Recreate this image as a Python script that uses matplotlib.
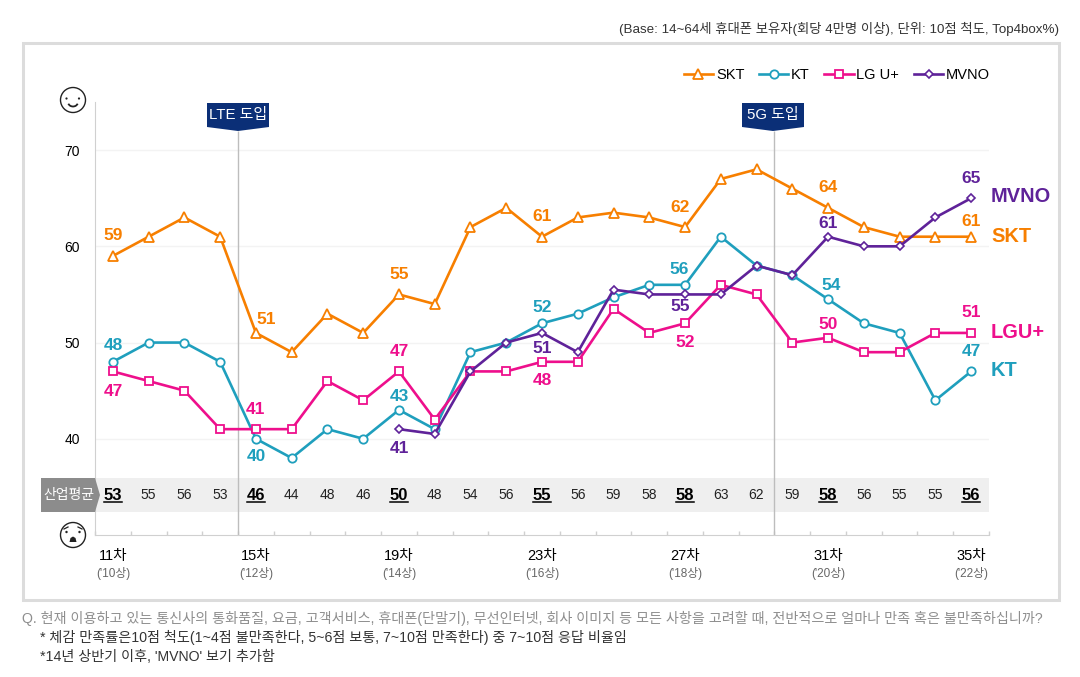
import matplotlib
matplotlib.use('Agg')
import matplotlib.pyplot as plt
from matplotlib.patches import Circle, Polygon, Rectangle, Arc

plt.rcParams['font.family'] = ['Liberation Sans', 'Noto Sans CJK KR']

waves = list(range(11, 36))
skt = [59, 61, 63, 61, 51, 49, 53, 51, 55, 54, 62, 64, 61, 63, 63.5, 63, 62, 67, 68, 66, 64, 62, 61, 61, 61]
kt = [48, 50, 50, 48, 40, 38, 41, 40, 43, 41, 49, 50, 52, 53, 54.7, 56, 56, 61, 58, 57, 54.5, 52, 51, 44, 47]
lgu = [47, 46, 45, 41, 41, 41, 46, 44, 47, 42, 47, 47, 48, 48, 53.5, 51, 52, 56, 55, 50, 50.5, 49, 49, 51, 51]
mvno_waves = list(range(19, 36))
mvno = [41, 40.5, 47, 50, 51, 49, 55.5, 55, 55, 55, 58, 57, 61, 60, 60, 63, 65]
industry = [53, 55, 56, 53, 46, 44, 48, 46, 50, 48, 54, 56, 55, 56, 59, 58, 58, 63, 62, 59, 58, 56, 55, 55, 56]
label_waves = [11, 15, 19, 23, 27, 31, 35]
label_years = ["('10상)", "('12상)", "('14상)", "('16상)", "('18상)", "('20상)", "('22상)"]

ORANGE = '#f77f00'
TEAL = '#1f9fbd'
PINK = '#ee0f8c'
PURPLE = '#5f2299'
NAVY = '#0b2f77'

fig = plt.figure(figsize=(10.8, 6.77), dpi=100)
W, H = 1080, 677
ax = fig.add_axes([95 / W, 1 - 535 / H, 894 / W, 433 / H], facecolor='none')
ov = fig.add_axes([0, 0, 1, 1], facecolor='none', zorder=5)
ov.set_xlim(0, W)
ov.set_ylim(H, 0)
ov.axis('off')

ax.set_xlim(10.5, 35.5)
ax.set_ylim(30, 75)

# outer frame
ov.add_patch(Rectangle((23, 43), 1036, 557, fill=False, ec='#dcdcdc', lw=2.2))

# grid and band
ax.axhspan(32.4, 35.95, color='#efefef', lw=0, zorder=0)
ax.set_yticks([40, 50, 60, 70])
ax.grid(axis='y', color='#f3f3f3', lw=1)
ax.set_axisbelow(True)
ax.spines['top'].set_visible(False)
ax.spines['right'].set_visible(False)
ax.spines['left'].set_color('#d0d0d0')
ax.spines['bottom'].set_color('#d0d0d0')
ax.tick_params(axis='y', length=0, labelsize=10, pad=11, labelcolor='black')
ax.set_xticks([10.5 + i for i in range(26)])
ax.set_xticklabels([])
ax.tick_params(axis='x', direction='in', length=3, color='#d0d0d0', width=1)

# LTE / 5G lines
ax.vlines([14.5, 29.5], 30, 72, color='#bdbdbd', lw=1, zorder=1)

l1, = ax.plot(waves, skt, color=ORANGE, lw=1.9, marker='^', ms=6.6, mfc='white', mec=ORANGE, mew=1.3, zorder=3, label='SKT')
l2, = ax.plot(waves, kt, color=TEAL, lw=1.9, marker='o', ms=6, mfc='white', mec=TEAL, mew=1.3, zorder=4, label='KT')
l3, = ax.plot(waves, lgu, color=PINK, lw=1.9, marker='s', ms=5.8, mfc='white', mec=PINK, mew=1.3, zorder=5, label='LG U+')
l4, = ax.plot(mvno_waves, mvno, color=PURPLE, lw=1.9, marker='D', ms=4.2, mfc='white', mec=PURPLE, mew=1.2, zorder=6, label='MVNO')

ov.legend(handles=[l1, l2, l3, l4], loc='center right', bbox_to_anchor=(990 / W, 1 - 75 / H),
          bbox_transform=fig.transFigure, ncols=4, frameon=False, fontsize=10.5, handlelength=2.0,
          handletextpad=0.2, columnspacing=1.0, borderpad=0, borderaxespad=0)

# value labels: series, wave, shown text, pixel offset
def put(color, x, y, txt, dx, dy):
    ax.annotate(txt, (x, y), xytext=(dx, dy), textcoords='offset pixels', ha='center', va='center',
                color=color, fontsize=12.5, fontweight='bold', zorder=8)

skt_off = {11: (0, 20), 15: (10, 13), 19: (0, 20), 23: (0, 20), 27: (-5, 20), 31: (0, 20), 35: (0, 15)}
kt_off = {11: (0, 16), 15: (0, -18), 19: (0, 13), 23: (0, 16), 27: (-6, 15), 31: (3, 14), 35: (0, 20)}
lgu_off = {11: (0, -20), 15: (0, 20), 19: (0, 20), 23: (0, -19), 27: (0, -19), 31: (0, 13), 35: (0, 20)}
mvno_off = {19: (0, -19), 23: (0, -16), 27: (-5, -12), 31: (0, 13), 35: (0, 20)}

for xs, ys, off, col in [(waves, skt, skt_off, ORANGE), (waves, kt, kt_off, TEAL),
                         (waves, lgu, lgu_off, PINK), (mvno_waves, mvno, mvno_off, PURPLE)]:
    for x, y in zip(xs, ys):
        if x in off:
            put(col, x, y, str(int(y)), off[x][0], off[x][1])

# series names at the right
for name, yy, col in [('MVNO', 196, PURPLE), ('SKT', 237, ORANGE), ('LGU+', 333, PINK), ('KT', 371, TEAL)]:
    ov.text(991, yy, name, color=col, fontsize=14.4, fontweight='bold', va='center', ha='left')

# industry average row
for x, v in zip(waves, industry):
    if x in label_waves:
        ax.annotate(str(v), (x, 34.13), ha='center', va='center', fontsize=12, fontweight='bold',
                    color='black', zorder=7)
        ax.plot([x - 0.26, x + 0.26], [33.4, 33.4], color='black', lw=1.1, zorder=7)
    else:
        ax.annotate(str(v), (x, 34.13), ha='center', va='center', fontsize=10, color='#222222', zorder=7)

ov.add_patch(Polygon([(41, 478), (95, 478), (100, 495), (95, 512), (41, 512)], fc='#8c8c8c', ec='none'))
ov.text(69, 495, '산업평균', color='white', fontsize=10, ha='center', va='center')

# wave labels under the axis
for x, yr in zip(label_waves, label_years):
    ax.annotate(f'{x}차', (x, 30), xytext=(0, -21), textcoords='offset pixels', ha='center', va='center',
                fontsize=10.5, color='black', annotation_clip=False)
    ax.annotate(yr, (x, 30), xytext=(0, -38), textcoords='offset pixels', ha='center', va='center',
                fontsize=8.5, color='#666666', annotation_clip=False)

# LTE / 5G badges
for cx, txt in [(238, 'LTE 도입'), (773, '5G 도입')]:
    ov.add_patch(Polygon([(cx - 31, 103), (cx + 31, 103), (cx + 31, 127), (cx, 131), (cx - 31, 127)], fc=NAVY, ec='none'))
    ov.text(cx, 115.5, txt, color='white', fontsize=10.8, ha='center', va='center')

# happy face
ov.add_patch(Circle((73, 100), 12.5, fc='white', ec='#222222', lw=1))
ov.add_patch(Circle((66.5, 98.5), 1.1, fc='#222222', ec='none'))
ov.add_patch(Circle((79, 98.5), 1.1, fc='#222222', ec='none'))
ov.add_patch(Arc((73, 102), 10, 9, theta1=20, theta2=160, ec='#222222', lw=1.3))

# unhappy face
ov.add_patch(Circle((73, 535), 12.5, fc='white', ec='#222222', lw=1))
ov.add_patch(Circle((66.5, 532), 1.2, fc='#222222', ec='none'))
ov.add_patch(Circle((79.5, 532), 1.2, fc='#222222', ec='none'))
ov.plot([64, 68], [529, 527], color='#222222', lw=0.9)
ov.plot([78, 82], [527, 529], color='#222222', lw=0.9)
ov.add_patch(Polygon([(69.5, 542), (70.5, 538), (73, 536.5), (75.5, 538), (76.5, 542)], fc='#222222', ec='none'))

# header and notes
ov.text(1059, 29, '(Base: 14~64세 휴대폰 보유자(회당 4만명 이상), 단위: 10점 척도, Top4box%)',
        ha='right', va='center', fontsize=9.6, color='#333333')
ov.text(22, 618, 'Q. 현재 이용하고 있는 통신사의 통화품질, 요금, 고객서비스, 휴대폰(단말기), 무선인터넷, 회사 이미지 등 모든 사항을 고려할 때, 전반적으로 얼마나 만족 혹은 불만족하십니까?',
        ha='left', va='center', fontsize=10.15, color='#8e8e8e')
ov.text(40, 637, '* 체감 만족률은10점 척도(1~4점 불만족한다, 5~6점 보통, 7~10점 만족한다) 중 7~10점 응답 비율임',
        ha='left', va='center', fontsize=10.15, color='#333333')
ov.text(40, 657, "*14년 상반기 이후, 'MVNO' 보기 추가함",
        ha='left', va='center', fontsize=10.15, color='#333333')

plt.savefig('out.png', dpi=100)
